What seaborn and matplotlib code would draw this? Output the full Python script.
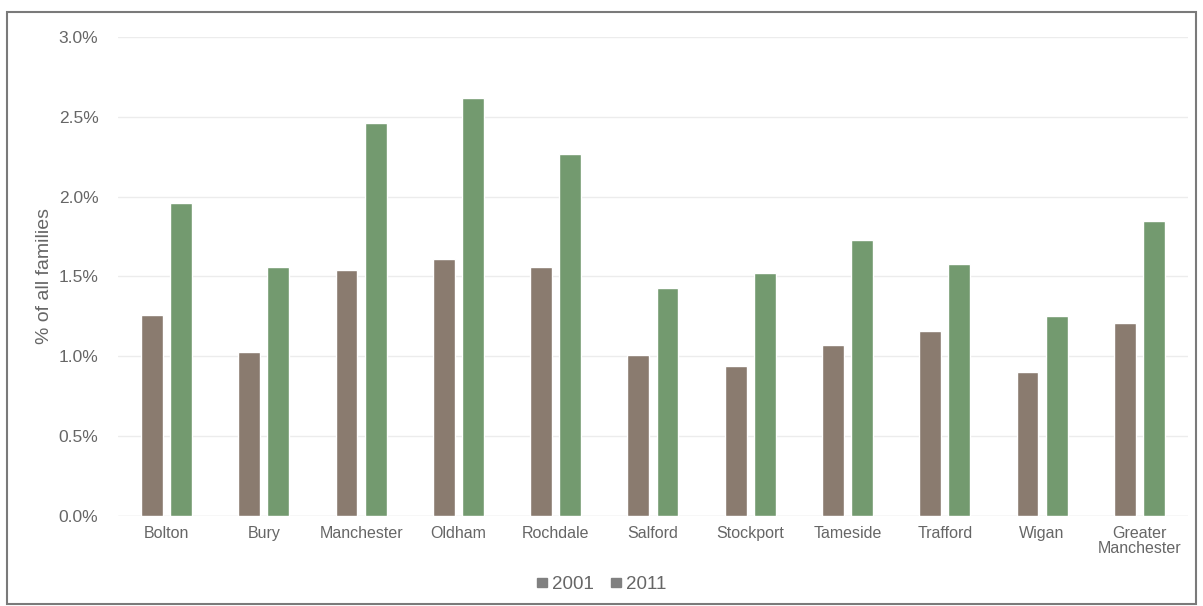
import pandas as pd
import seaborn as sns
import matplotlib.pyplot as plt
from matplotlib.patches import Patch, Rectangle
from matplotlib.ticker import FuncFormatter

areas = ["Bolton", "Bury", "Manchester", "Oldham", "Rochdale", "Salford",
         "Stockport", "Tameside", "Trafford", "Wigan", "Greater\nManchester"]
v2001 = [1.26, 1.03, 1.54, 1.61, 1.56, 1.01, 0.94, 1.07, 1.16, 0.90, 1.21]
v2011 = [1.96, 1.56, 2.46, 2.62, 2.27, 1.43, 1.52, 1.73, 1.58, 1.25, 1.85]
years = ["2001", "2011"]

df = pd.DataFrame({
    "area": areas * 2,
    "year": [years[0]] * len(areas) + [years[1]] * len(areas),
    "pct": v2001 + v2011,
})

sns.set_theme(style="white")
plt.rcParams['font.family'] = ['Liberation Sans', 'DejaVu Sans']

fig = plt.figure(figsize=(12.03, 6.06), dpi=100)
ax = fig.add_axes([0.098, 0.1485, 0.8895, 0.7905])

pal = {"2001": "#8a7b6f", "2011": "#739a6f"}
sns.barplot(data=df, x="area", y="pct", hue="year", palette=pal,
            width=0.6, gap=0.25, saturation=1, ax=ax, legend=False)

ax.set_ylim(0, 3.0)
ax.set_yticks([0, 0.5, 1.0, 1.5, 2.0, 2.5, 3.0])
ax.yaxis.set_major_formatter(FuncFormatter(lambda v, p: f"{v:.1f}%"))
ax.grid(axis="y", color="#ececec", linewidth=1)
ax.set_axisbelow(True)
for s in ax.spines.values():
    s.set_visible(False)
ax.axhline(0, color="#e6e6e6", linewidth=1, zorder=0)
ax.set_xlabel("")
ax.set_ylabel("% of all families", fontsize=14, color="#666666", labelpad=4)
ax.tick_params(axis="y", labelsize=12.5, labelcolor="#666666", length=0, pad=14)
ax.tick_params(axis="x", labelsize=11.5, labelcolor="#666666", length=0, pad=7)
for t in ax.get_xticklabels():
    t.set_linespacing(1.0)

handles = [Patch(color="#808080", label=y) for y in years]
fig.legend(handles=handles, loc="center", bbox_to_anchor=(0.5, 0.035), ncol=2,
           frameon=False, fontsize=13.5, handlelength=0.55, handleheight=0.4,
           handletextpad=0.25, columnspacing=0.9, labelcolor="#666666")

fig.patches.append(Rectangle((0.006, 0.003), 0.988, 0.977, transform=fig.transFigure,
                             fill=False, edgecolor="#7a7a7a", linewidth=1.5))

fig.savefig("out.png", dpi=100)
